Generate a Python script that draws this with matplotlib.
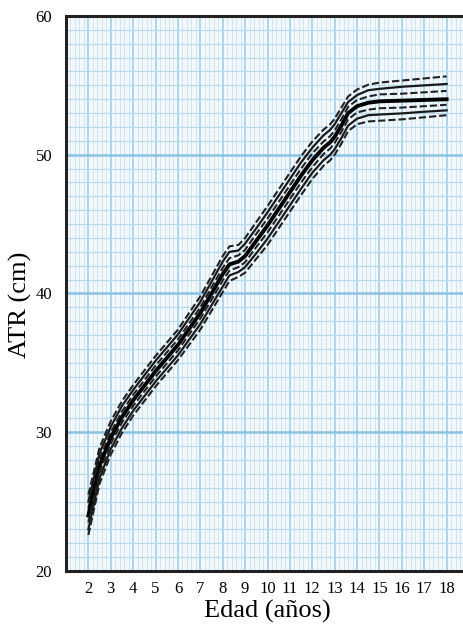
import matplotlib
matplotlib.use("Agg")
import matplotlib.pyplot as plt
import numpy as np
from matplotlib.ticker import MultipleLocator

ages = [2, 2.5, 3, 3.5, 4, 5, 6, 7, 7.5, 8, 8.3, 8.7, 9, 9.5, 10, 10.5, 11, 11.5,
        12, 12.5, 12.8, 13, 13.3, 13.6, 14, 14.5, 15, 16, 17, 18]

p97 = [25.5, 28.9, 30.8, 32.25, 33.4, 35.5, 37.4, 39.8, 41.25, 42.7, 43.4, 43.5, 44.0, 45.15,
       46.3, 47.5, 48.7, 49.9, 50.95, 51.8, 52.2, 52.6, 53.4, 54.2, 54.7, 55.05, 55.2, 55.35, 55.5, 55.65]
p90 = [25.0, 28.5, 30.4, 31.9, 33.05, 35.15, 37.05, 39.4, 40.85, 42.3, 43.0, 43.1, 43.6, 44.7,
       45.85, 47.05, 48.25, 49.45, 50.5, 51.4, 51.8, 52.2, 53.0, 53.8, 54.3, 54.65, 54.75, 54.9, 55.0, 55.1]
p75 = [24.5, 28.1, 30.0, 31.5, 32.7, 34.8, 36.7, 39.0, 40.45, 41.85, 42.55, 42.75, 43.15, 44.3,
       45.4, 46.6, 47.8, 49.0, 50.1, 50.95, 51.35, 51.75, 52.55, 53.45, 53.95, 54.2, 54.35, 54.4, 54.5, 54.6]
p50 = [24.0, 27.6, 29.6, 31.1, 32.3, 34.4, 36.3, 38.6, 40.0, 41.4, 42.1, 42.3, 42.7, 43.8,
       44.9, 46.1, 47.3, 48.5, 49.6, 50.5, 50.9, 51.3, 52.1, 53.0, 53.5, 53.75, 53.85, 53.9, 53.95, 54.0]
p25 = [23.5, 27.1, 29.2, 30.7, 31.9, 34.0, 35.9, 38.2, 39.55, 40.95, 41.65, 41.9, 42.25, 43.35,
       44.4, 45.6, 46.8, 48.0, 49.1, 50.05, 50.45, 50.85, 51.65, 52.55, 53.05, 53.25, 53.35, 53.4, 53.5, 53.6]
p10 = [23.0, 26.7, 28.8, 30.3, 31.55, 33.65, 35.55, 37.8, 39.15, 40.5, 41.3, 41.55, 41.9, 42.9,
       43.95, 45.15, 46.35, 47.55, 48.7, 49.6, 50.0, 50.4, 51.2, 52.1, 52.6, 52.85, 52.9, 52.98, 53.1, 53.2]
p3 = [22.6, 26.3, 28.4, 29.95, 31.2, 33.3, 35.2, 37.4, 38.75, 40.1, 40.9, 41.2, 41.5, 42.5,
      43.5, 44.7, 45.9, 47.1, 48.25, 49.2, 49.6, 50.0, 50.8, 51.7, 52.2, 52.4, 52.45, 52.55, 52.7, 52.85]

xticks = list(range(2, 19))
yticks = [20, 30, 40, 50, 60]

plt.rcParams['font.family'] = ['Liberation Serif', 'DejaVu Serif']

fig = plt.figure(figsize=(4.64, 6.38), dpi=100)
ax = fig.add_axes([66/464, 67/638, 403/464, 555/638])
ax.set_facecolor('#f2f8fc')
ax.set_xlim(1, 19)
ax.set_ylim(20, 60)

# grid
ax.xaxis.set_minor_locator(MultipleLocator(0.2))
ax.yaxis.set_minor_locator(MultipleLocator(1))
ax.grid(which='minor', axis='x', color='#cfe5f2', linewidth=0.7)
ax.grid(which='minor', axis='y', color='#b9d9ec', linewidth=0.9)
for xv in range(1, 20):
    ax.axvline(xv, color='#9ccbe6', linewidth=1.1, zorder=0.5)
for yv in [30, 40, 50]:
    ax.axhline(yv, color='#8cc2e2', linewidth=1.8, zorder=0.6)
ax.set_axisbelow(True)

ax.set_xticks(xticks)
ax.set_yticks(yticks)
ax.tick_params(axis='both', which='both', length=0, labelsize=12)
ax.tick_params(axis='x', pad=7)
ax.tick_params(axis='y', pad=10)

dash = dict(linestyle=(0, (3.5, 1.4)), linewidth=1.5, color='#222222')
ax.plot(ages, p97, **dash)
ax.plot(ages, p90, color='#1a1a1a', linewidth=1.6)
ax.plot(ages, p75, **dash)
ax.plot(ages, p50, color='#000000', linewidth=2.8)
ax.plot(ages, p25, **dash)
ax.plot(ages, p10, color='#1a1a1a', linewidth=1.6)
ax.plot(ages, p3, **dash)

for side in ['left', 'top', 'bottom']:
    ax.spines[side].set_linewidth(2.2)
    ax.spines[side].set_color('#222222')
ax.spines['right'].set_visible(False)

ax.set_xlabel('Edad (años)', fontsize=19, labelpad=2)
ax.set_ylabel('ATR (cm)', fontsize=19)
ax.yaxis.set_label_coords(-0.085, 0.48)

fig.savefig('out.png', dpi=100)
